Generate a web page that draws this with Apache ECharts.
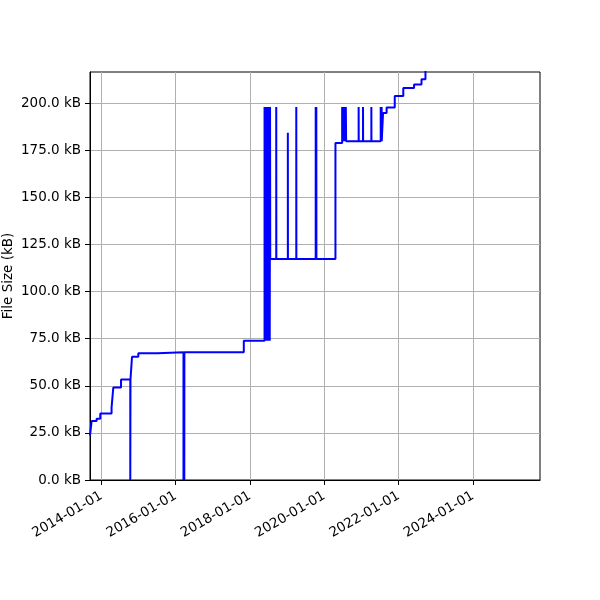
<!DOCTYPE html>
<html>
<head>
<meta charset="utf-8">
<script src="https://cdn.jsdelivr.net/npm/echarts@6/dist/echarts.min.js"></script>
<style>
html,body{margin:0;padding:0;background:#fff;}
#chart{width:600px;height:600px;}
</style>
</head>
<body>
<div id="chart"></div>
<script>
const dates = [
'2013-09-11','2013-09-27','2013-11-15','2013-12-21','2014-04-11','2014-04-28','2014-07-13',
'2014-10-12','2014-10-14','2014-10-29','2014-12-30','2015-07-08',
'2016-03-18','2016-03-19','2016-03-26','2016-03-27','2017-11-01',
'2018-05-24','2018-05-27','2018-05-30','2018-06-02','2018-06-05','2018-06-08','2018-06-11','2018-06-14',
'2018-06-17','2018-06-20','2018-06-23','2018-06-26','2018-06-29','2018-07-02','2018-07-05','2018-07-08',
'2018-07-11','2018-07-14','2018-07-17','2018-07-19',
'2018-09-16','2018-09-17','2019-01-08','2019-01-09','2019-04-01','2019-04-02',
'2019-10-09','2019-10-10','2019-10-15','2019-10-16','2020-04-20',
'2020-06-25','2020-06-28','2020-07-01','2020-07-04','2020-07-07','2020-07-10','2020-07-13','2020-07-16',
'2020-07-19','2020-07-22','2020-07-25','2020-07-28','2020-07-31','2020-08-03',
'2020-12-04','2020-12-05','2021-01-16','2021-01-17','2021-04-08','2021-04-09',
'2021-07-09','2021-07-10','2021-07-18','2021-07-19',
'2021-08-01','2021-09-05','2021-11-24','2022-02-16','2022-06-02','2022-08-14','2022-09-22'
];
const sizesKB = [
23.5,31.3,32.5,35.3,38.4,49.1,53.4,
0,53.4,65.4,67.3,67.8,
0,67.8,0,67.8,73.9,
198,73.9,198,73.9,198,73.9,198,73.9,
198,73.9,198,73.9,198,73.9,198,73.9,
198,73.9,198,117.3,
198,117.3,184.4,117.3,198,117.3,
198,117.3,198,117.3,178.9,
198,179.8,198,179.8,198,179.8,198,179.8,
198,179.8,198,179.8,198,179.8,
198,179.8,198,179.8,198,179.8,
198,179.8,198,179.8,
194.8,197.7,203.9,208.1,209.9,212.7,225
];
const xTickLabels = ['2014-01-01','2016-01-01','2018-01-01','2020-01-01','2022-01-01','2024-01-01'];
const yTickValues = [0,25,50,75,100,125,150,175,200];
const xRange = ['2013-09-11','2025-10-22'];
const yMax = 216.6;

const xTicks = xTickLabels.map(d => Date.parse(d));
const seriesData = dates.map((d, i) => [Date.parse(d), sizesKB[i]]);
const font = 'DejaVu Sans';
const fs = 13.5;

const chart = echarts.init(document.getElementById('chart'), null, {renderer: 'canvas'});
chart.setOption({
  animation: false,
  backgroundColor: '#ffffff',
  grid: {left: 90, right: 60, top: 72, bottom: 120, containLabel: false, outerBoundsMode: 'none',
    show: true, borderColor: '#000', borderWidth: 1, backgroundColor: 'transparent'},
  xAxis: {
    type: 'value',
    min: Date.parse(xRange[0]),
    max: Date.parse(xRange[1]),
    axisLine: {show: true, onZero: false, lineStyle: {color: '#000', width: 1}},
    axisTick: {show: true, length: 5, inside: false, customValues: xTicks, lineStyle: {color: '#000', width: 1}},
    axisLabel: {
      customValues: xTicks,
      rotate: 30, margin: 15, color: '#000', fontFamily: font, fontSize: fs,
      formatter: v => new Date(v).toISOString().slice(0,10)
    },
    splitLine: {show: true, lineStyle: {color: '#b0b0b0', width: 1}}
  },
  yAxis: {
    type: 'value',
    min: 0, max: yMax,
    name: 'File Size (kB)',
    nameLocation: 'middle', nameRotate: 90, nameGap: 75, nameMoveOverlap: false,
    nameTextStyle: {color: '#000', fontFamily: font, fontSize: fs},
    axisLine: {show: true, onZero: false, lineStyle: {color: '#000', width: 1}},
    axisTick: {show: true, length: 5, customValues: yTickValues, lineStyle: {color: '#000', width: 1}},
    axisLabel: {customValues: yTickValues, margin: 9, color: '#000', fontFamily: font, fontSize: fs,
      formatter: v => v.toFixed(1) + ' kB'},
    splitLine: {show: true, lineStyle: {color: '#b0b0b0', width: 1}}
  },
  series: [{
    type: 'line',
    step: 'end',
    data: seriesData,
    showSymbol: false,
    symbol: 'none',
    clip: true,
    lineStyle: {color: '#0000ff', width: 2},
    itemStyle: {color: '#0000ff'}
  }]
});
</script>
</body>
</html>
